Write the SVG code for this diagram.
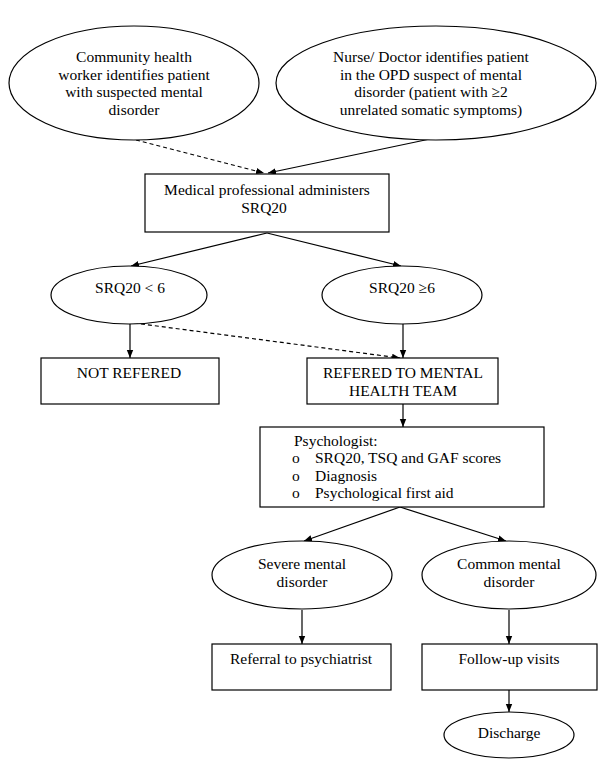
<svg xmlns="http://www.w3.org/2000/svg" width="600" height="771" viewBox="0 0 600 771">
<defs>
<marker id="ah" viewBox="0 0 10 10" refX="10" refY="5" markerWidth="8" markerHeight="8" markerUnits="userSpaceOnUse" orient="auto">
<path d="M0,1 L10,5 L0,9 z" fill="#000"/>
</marker>
<style>
.s{fill:#fff;stroke:#000;stroke-width:1.2}
.t{font-family:"Liberation Serif","Times New Roman",serif;font-size:15.5px;fill:#000}
.c{text-anchor:middle}
.l{fill:none;stroke:#000;stroke-width:1.2;marker-end:url(#ah)}
.d{stroke-dasharray:4,3}
</style>
</defs>
<rect width="600" height="771" fill="#fff"/>
<g id="connectors">
<line class="l d" x1="136" y1="140" x2="264" y2="173"/>
<line class="l" x1="430" y1="139" x2="268" y2="173"/>
<line class="l" x1="267" y1="233" x2="131" y2="266"/>
<line class="l" x1="267" y1="233" x2="401" y2="266"/>
<line class="l" x1="130" y1="323" x2="130" y2="358"/>
<line class="l d" x1="134" y1="323" x2="400" y2="358"/>
<line class="l" x1="403" y1="323" x2="403" y2="358"/>
<line class="l" x1="403" y1="404" x2="403" y2="427"/>
<line class="l" x1="400" y1="507" x2="304" y2="541"/>
<line class="l" x1="400" y1="507" x2="506" y2="541"/>
<line class="l" x1="302" y1="610" x2="302" y2="644"/>
<line class="l" x1="509" y1="610" x2="509" y2="644"/>
<line class="l" x1="509" y1="690" x2="509" y2="712"/>
</g>
<g id="n1">
<ellipse class="s" cx="134" cy="83" rx="125" ry="57"/>
<text class="t c" x="134" y="62">Community health</text>
<text class="t c" x="134" y="79.5">worker identifies patient</text>
<text class="t c" x="134" y="97">with suspected mental</text>
<text class="t c" x="134" y="114.5">disorder</text>
</g>
<g id="n2">
<ellipse class="s" cx="436" cy="83" rx="160" ry="57"/>
<text class="t c" x="431" y="62">Nurse/ Doctor identifies patient</text>
<text class="t c" x="431" y="79.5">in the OPD suspect of mental</text>
<text class="t c" x="431" y="97">disorder (patient with ≥2</text>
<text class="t c" x="431" y="114.5">unrelated somatic symptoms)</text>
</g>
<g id="n3">
<rect class="s" x="145" y="174" width="244" height="58"/>
<text class="t c" x="267" y="195">Medical professional administers</text>
<text class="t c" x="264" y="213">SRQ20</text>
</g>
<g id="n4">
<ellipse class="s" cx="129" cy="295" rx="78" ry="29"/>
<text class="t c" x="130" y="293">SRQ20 &lt; 6</text>
</g>
<g id="n5">
<ellipse class="s" cx="402" cy="295" rx="80" ry="29"/>
<text class="t c" x="402" y="293">SRQ20 ≥6</text>
</g>
<g id="n6">
<rect class="s" x="41" y="358" width="178" height="46"/>
<text class="t c" x="129" y="378">NOT REFERED</text>
</g>
<g id="n7">
<rect class="s" x="307" y="358" width="191" height="46"/>
<text class="t c" x="403" y="378">REFERED TO MENTAL</text>
<text class="t c" x="403" y="395.5">HEALTH TEAM</text>
</g>
<g id="n8">
<rect class="s" x="260" y="427" width="284" height="80"/>
<text class="t" x="294" y="446">Psychologist:</text>
<text class="t" x="292" y="463">o</text>
<text class="t" x="315" y="463">SRQ20, TSQ and GAF scores</text>
<text class="t" x="292" y="481">o</text>
<text class="t" x="315" y="481">Diagnosis</text>
<text class="t" x="292" y="498">o</text>
<text class="t" x="315" y="498">Psychological first aid</text>
</g>
<g id="n9">
<ellipse class="s" cx="302" cy="575" rx="90" ry="34"/>
<text class="t c" x="302" y="569">Severe mental</text>
<text class="t c" x="302" y="587">disorder</text>
</g>
<g id="n10">
<ellipse class="s" cx="509" cy="575" rx="87" ry="34"/>
<text class="t c" x="509" y="569">Common mental</text>
<text class="t c" x="509" y="587">disorder</text>
</g>
<g id="n11">
<rect class="s" x="212" y="644" width="179" height="46"/>
<text class="t c" x="301" y="664">Referral to psychiatrist</text>
</g>
<g id="n12">
<rect class="s" x="422" y="644" width="175" height="46"/>
<text class="t c" x="509" y="664">Follow-up visits</text>
</g>
<g id="n13">
<ellipse class="s" cx="509" cy="735" rx="65" ry="23"/>
<text class="t c" x="509" y="738">Discharge</text>
</g>
</svg>
